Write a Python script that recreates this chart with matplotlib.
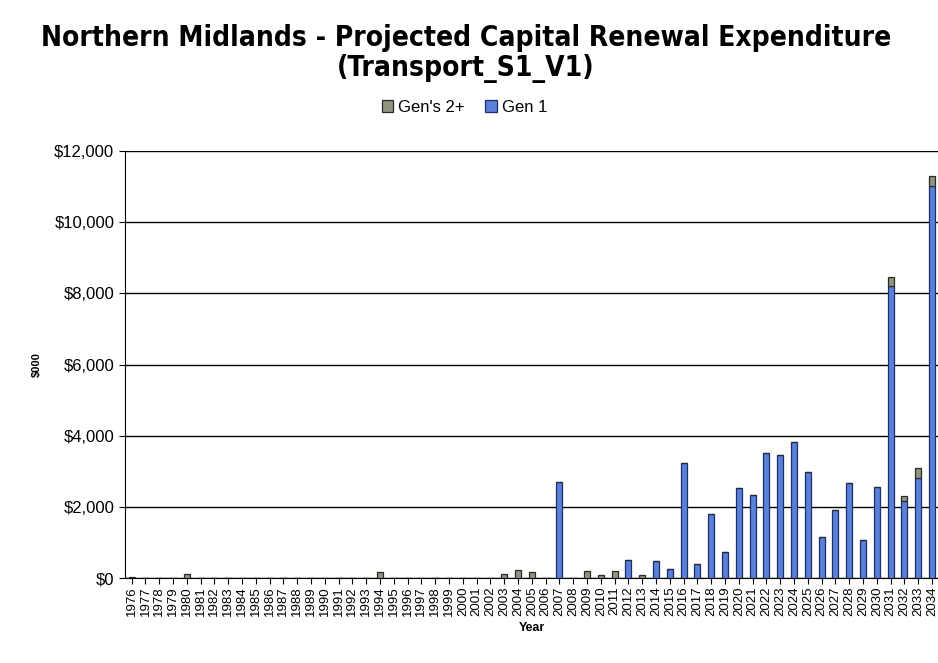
import matplotlib.pyplot as plt
import numpy as np
from matplotlib.ticker import FuncFormatter

plt.rcParams.update({
    "font.family": ["Liberation Sans", "DejaVu Sans"],
    "font.size": 11,
})

# --- data ($000 per year) ---
years = list(range(1976, 2035))

gen1 = {
    2007: 2710, 2012: 520, 2014: 490, 2015: 255, 2016: 3235, 2017: 390,
    2018: 1790, 2019: 735, 2020: 2540, 2021: 2340, 2022: 3510, 2023: 3450,
    2024: 3830, 2025: 2970, 2026: 1170, 2027: 1915, 2028: 2660, 2029: 1075,
    2030: 2550, 2031: 8200, 2032: 2160, 2033: 2810, 2034: 11020,
}
gen2 = {
    1976: 30, 1980: 110, 1994: 180, 2003: 110, 2004: 220, 2005: 180,
    2009: 200, 2010: 80, 2011: 200, 2013: 90,
    2031: 250, 2032: 150, 2033: 280, 2034: 280,
}

gen1_vals = np.array([gen1.get(y, 0) for y in years])
gen2_vals = np.array([gen2.get(y, 0) for y in years])

fig = plt.figure(figsize=(9.38, 6.63), dpi=100)
ax = fig.add_axes([0.133, 0.128, 0.868, 0.644])

x = np.arange(len(years))
w = 0.44
ax.bar(x, gen1_vals, width=w, color="#5b80d8", edgecolor="#1b2f6e",
       linewidth=0.9, label="Gen 1", zorder=3)
ax.bar(x, gen2_vals, width=w, bottom=gen1_vals, color="#8f9580",
       edgecolor="#2a2a2a", linewidth=0.9, label="Gen's 2+", zorder=3)

ax.set_xlim(-0.5, len(years) - 0.5)
ax.set_ylim(0, 12000)
ax.set_yticks(range(0, 12001, 2000))
ax.yaxis.set_major_formatter(FuncFormatter(lambda v, p: f"${v:,.0f}"))
ax.yaxis.grid(True, color="black", linewidth=1.0, zorder=0)
ax.set_xticks(x)
ax.set_xticklabels([str(y) for y in years], rotation=90, fontsize=9.5)
ax.tick_params(axis="y", labelsize=12, length=4)
ax.tick_params(axis="x", length=4, pad=2)

for s in ["top", "right"]:
    ax.spines[s].set_visible(False)

ax.set_ylabel("$000", fontsize=8, fontweight="bold", labelpad=9)
ax.set_xlabel("Year", fontsize=9, fontweight="bold", labelpad=4)

fig.text(0.497, 0.942, "Northern Midlands - Projected Capital Renewal Expenditure",
         ha="center", va="center", fontsize=20.2, fontweight="bold",
         family=["DejaVu Sans"], stretch="condensed")
fig.text(0.497, 0.896, "(Transport_S1_V1)", ha="center", va="center",
         fontsize=20.2, fontweight="bold", family=["DejaVu Sans"],
         stretch="condensed")

handles, labels = ax.get_legend_handles_labels()
fig.legend(handles[::-1], labels[::-1], loc="center", bbox_to_anchor=(0.495, 0.838),
           ncol=2, frameon=False, fontsize=12, handlelength=0.7, handleheight=0.7,
           handletextpad=0.3, columnspacing=1.2)

plt.savefig("out.png", dpi=100)
